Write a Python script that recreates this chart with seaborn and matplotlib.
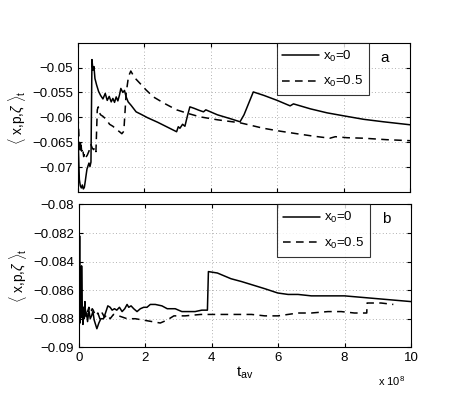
import matplotlib
matplotlib.use("Agg")
import matplotlib.pyplot as plt
import seaborn as sns

# datos (t_av en unidades de 1e8)
t_a0 = [0.0, 0.02, 0.04, 0.07, 0.1, 0.13, 0.16, 0.19, 0.22, 0.24, 0.27, 0.3, 0.33, 0.36, 0.39,
        0.42, 0.45, 0.48, 0.51, 0.56, 0.62, 0.68, 0.75, 0.82, 0.88, 0.94, 1.0, 1.05, 1.1, 1.15,
        1.2, 1.25, 1.29, 1.35, 1.4, 1.45, 1.51, 1.6, 1.75, 1.9, 2.1, 2.4, 2.7, 2.97, 3.02, 3.07,
        3.15, 3.22, 3.3, 3.37, 3.5, 3.65, 3.78, 3.85, 4.2, 4.6, 4.88, 5.0, 5.28, 5.6, 6.0, 6.39,
        6.49, 7.0, 7.5, 8.0, 8.6, 9.2, 10.0]
y_a0 = [-0.064, -0.068, -0.0725, -0.0738, -0.0742, -0.0736, -0.0744, -0.0741, -0.0728, -0.0718,
        -0.0704, -0.0698, -0.0692, -0.0699, -0.069, -0.0484, -0.0505, -0.0498, -0.0522, -0.0535,
        -0.0548, -0.0556, -0.0563, -0.0552, -0.0566, -0.0558, -0.0569, -0.0562, -0.0570, -0.0559,
        -0.0567, -0.0555, -0.0542, -0.0550, -0.0546, -0.0559, -0.0569, -0.0576, -0.0589, -0.0594,
        -0.0601, -0.0610, -0.0620, -0.0629, -0.0619, -0.0622, -0.0614, -0.0618, -0.0596, -0.0579,
        -0.0582, -0.0586, -0.0589, -0.0585, -0.0595, -0.0603, -0.0609, -0.0595, -0.0549, -0.0556,
        -0.0566, -0.0577, -0.0573, -0.0583, -0.0591, -0.0597, -0.0604, -0.0609, -0.0615]

t_a5 = [0.0, 0.02, 0.04, 0.06, 0.08, 0.11, 0.14, 0.17, 0.2, 0.24, 0.28, 0.33, 0.36, 0.39, 0.43,
        0.47, 0.51, 0.54, 0.58, 0.61, 0.64, 0.68, 0.75, 0.86, 0.95, 1.05, 1.17, 1.25, 1.32, 1.38,
        1.45, 1.52, 1.59, 1.7, 1.87, 2.05, 2.27, 2.6, 2.97, 3.3, 3.67, 4.2, 4.88, 5.2, 5.58, 6.1,
        6.59, 7.1, 7.59, 7.75, 8.1, 8.6, 9.3, 10.0]
y_a5 = [-0.0597, -0.0625, -0.0655, -0.0671, -0.0648, -0.0668, -0.0662, -0.0679, -0.0672, -0.068,
        -0.0676, -0.0668, -0.0660, -0.0655, -0.0662, -0.0665, -0.0660, -0.0669, -0.0585, -0.0579,
        -0.0590, -0.0595, -0.0598, -0.0605, -0.0614, -0.0618, -0.0625, -0.0629, -0.0633, -0.0628,
        -0.0552, -0.0518, -0.0507, -0.0520, -0.0532, -0.0545, -0.0559, -0.0572, -0.0585, -0.0592,
        -0.0599, -0.0605, -0.0611, -0.0616, -0.0622, -0.0628, -0.0633, -0.0638, -0.0642, -0.0639,
        -0.0641, -0.0642, -0.0645, -0.0647]

t_b0 = [0.0, 0.01, 0.02, 0.03, 0.05, 0.07, 0.08, 0.1, 0.12, 0.14, 0.16, 0.18, 0.2, 0.23, 0.26,
        0.3, 0.34, 0.38, 0.42, 0.46, 0.5, 0.54, 0.6, 0.66, 0.74, 0.8, 0.87, 0.94, 1.0, 1.07,
        1.14, 1.22, 1.3, 1.38, 1.45, 1.5, 1.57, 1.65, 1.75, 1.85, 1.95, 2.05, 2.15, 2.3, 2.5,
        2.66, 2.9, 3.1, 3.26, 3.5, 3.7, 3.87, 3.9, 4.17, 4.58, 4.9, 5.18, 5.6, 5.99, 6.3, 6.6,
        7.0, 7.5, 8.0, 8.5, 9.0, 9.5, 10.0]
y_b0 = [-0.0897, -0.0860, -0.0822, -0.0862, -0.0879, -0.0865, -0.0843, -0.0870, -0.0884, -0.0872,
        -0.0880, -0.0868, -0.0878, -0.0876, -0.0882, -0.0874, -0.0880, -0.0878, -0.0875, -0.0881,
        -0.0884, -0.0887, -0.0883, -0.0880, -0.0880, -0.0876, -0.0871, -0.0872, -0.0874, -0.0873,
        -0.0874, -0.0872, -0.0875, -0.0873, -0.0870, -0.0872, -0.0871, -0.0873, -0.0875, -0.0873,
        -0.0872, -0.0872, -0.0870, -0.0870, -0.0871, -0.0873, -0.0873, -0.0875, -0.0875, -0.0875,
        -0.0874, -0.0874, -0.0847, -0.0848, -0.0852, -0.0854, -0.0856, -0.0859, -0.0862, -0.0863,
        -0.0863, -0.0864, -0.0864, -0.0864, -0.0865, -0.0866, -0.0867, -0.0868]

t_b5 = [0.0, 0.01, 0.03, 0.05, 0.07, 0.09, 0.11, 0.13, 0.16, 0.19, 0.22, 0.26, 0.3, 0.35, 0.4,
        0.43, 0.5, 0.57, 0.63, 0.7, 0.77, 0.85, 0.94, 1.04, 1.2, 1.45, 1.7, 1.95, 2.2, 2.45,
        2.65, 2.86, 3.2, 3.67, 4.2, 4.7, 5.2, 5.6, 6.0, 6.3, 6.6, 7.0, 7.5, 7.9, 8.3, 8.67, 8.68,
        9.1, 9.47]
y_b5 = [-0.0880, -0.0870, -0.0885, -0.0874, -0.0880, -0.0868, -0.0878, -0.0871, -0.0877, -0.0873,
        -0.0879, -0.0875, -0.0872, -0.0876, -0.0873, -0.0874, -0.0878, -0.0876, -0.0880, -0.0876,
        -0.0879, -0.0877, -0.0880, -0.0877, -0.0878, -0.0880, -0.0880, -0.0881, -0.0882, -0.0883,
        -0.0881, -0.0878, -0.0878, -0.0877, -0.0877, -0.0877, -0.0877, -0.0878, -0.0878, -0.0877,
        -0.0876, -0.0876, -0.0875, -0.0875, -0.0876, -0.0876, -0.0869, -0.0869, -0.0870]

etiquetas = [r'$\mathregular{x_0}$=0', r'$\mathregular{x_0}$=0.5']
ticks_x = [0, 2, 4, 6, 8, 10]
ticks_a = [-0.07, -0.065, -0.06, -0.055, -0.05]
ticks_b = [-0.09, -0.088, -0.086, -0.084, -0.082, -0.08]

sns.set_style("ticks")
plt.rcParams['font.family'] = ['Liberation Sans', 'DejaVu Sans']
plt.rcParams['mathtext.fontset'] = 'custom'
plt.rcParams['mathtext.rm'] = 'Liberation Sans'
plt.rcParams['mathtext.it'] = 'Liberation Sans:italic'
plt.rcParams['font.size'] = 9
for clave in ['text.color', 'axes.labelcolor', 'xtick.color', 'ytick.color', 'axes.edgecolor']:
    plt.rcParams[clave] = 'k'

fig = plt.figure(figsize=(4.63, 3.99), dpi=100)
ax1 = fig.add_axes([0.1685, 0.519, 0.717, 0.374])
ax2 = fig.add_axes([0.1705, 0.1296, 0.717, 0.358])

ylabel = r'$\langle$ x,p,$\zeta$ $\rangle_{\mathregular{t}}$'

paneles = [(ax1, t_a0, y_a0, t_a5, y_a5, (-0.075, -0.045), ticks_a, 'a'),
           (ax2, t_b0, y_b0, t_b5, y_b5, (-0.09, -0.08), ticks_b, 'b')]

for ax, x0, y0, x5, y5, lim, ticks_y, letra in paneles:
    sns.lineplot(x=x0, y=y0, color='k', lw=1.1, ax=ax, label=etiquetas[0])
    sns.lineplot(x=x5, y=y5, color='k', lw=1.1, ax=ax, label=etiquetas[1])
    ax.lines[1].set_dashes([5, 3.5])
    ax.set_xlim(0, 10)
    ax.set_ylim(*lim)
    ax.set_xticks(ticks_x)
    ax.set_yticks(ticks_y)
    ax.set_yticklabels([f'{v:g}'.replace('-', '\u2212') for v in ticks_y])
    ax.grid(True, linestyle=(0, (1, 3)), color='0.6', lw=0.6)
    ax.tick_params(direction='in', top=True, right=True, length=3, labelsize=9.5)
    for s in ax.spines.values():
        s.set_visible(True)
        s.set_linewidth(0.8)
    ax.set_ylabel(ylabel, fontsize=10, labelpad=3)
    ax.set_xlabel('')
    leg = ax.legend(loc='upper left', bbox_to_anchor=(0.598, 1.0), borderaxespad=0,
                    frameon=True, fancybox=False, edgecolor='k', fontsize=9.5,
                    handlelength=2.8, handletextpad=0.3, borderpad=0.45, labelspacing=0.8)
    leg.get_frame().set_linewidth(0.8)
    ax.text(0.925, 0.9, letra, transform=ax.transAxes, fontsize=11, ha='center', va='center')

ax1.set_xticklabels([])
ax2.set_xticklabels([str(v) for v in ticks_x])
ax2.set_xlabel(r'$\mathregular{t_{av}}$', fontsize=11, labelpad=0)
ax2.text(0.982, -0.235, r'x 10$^{\mathregular{8}}$', transform=ax2.transAxes,
         fontsize=8, ha='right', va='center')

fig.savefig('out.png', dpi=100)
